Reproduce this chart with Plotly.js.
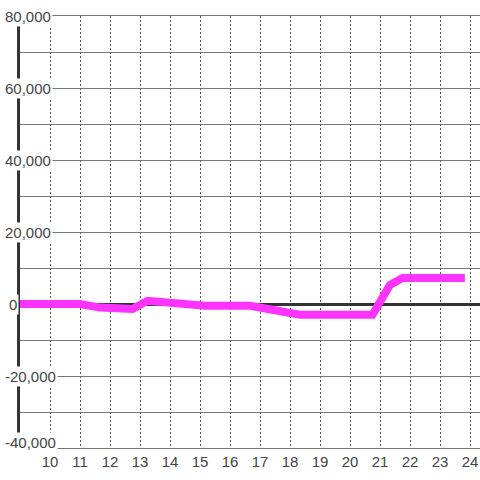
<!DOCTYPE html>
<html>
<head>
<meta charset="utf-8">
<script src="https://cdn.plot.ly/plotly-3.0.1.min.js"></script>
<style>html,body{margin:0;padding:0;background:#fff;}#chart{width:480px;height:480px;}</style>
</head>
<body>
<div id="chart"></div>
<script>
// Data (x = hour of day, y = value)
const hours = [9.0, 11.0, 11.67, 12.75, 13.25, 13.67, 14.17, 14.83, 15.17, 16.67, 17.0, 17.33, 18.33, 20.75, 21.33, 21.75, 23.83];
const values = [0, 0, -1000, -1400, 900, 700, 100, 0, -500, -500, -1000, -2000, -3000, -3000, 5300, 7200, 7200];

const xTickVals = [10, 11, 12, 13, 14, 15, 16, 17, 18, 19, 20, 21, 22, 23, 24];
const xTickText = ['10', '11', '12', '13', '14', '15', '16', '17', '18', '19', '20', '21', '22', '23', '24'];
const yTickVals = [-40000, -20000, 0, 20000, 40000, 60000, 80000];
const yTickText = ['-40,000', '-20,000', '0', '20,000', '40,000', '60,000', '80,000'];

const FONT = 'Liberation Sans, Arial, sans-serif';
const yMin = -40000, yMax = 80000;

const annotations = yTickVals.map((v, i) => ({
  xref: 'paper', yref: 'y', x: 0, y: v,
  xanchor: 'left', yanchor: 'middle',
  xshift: v === 0 ? -13 : -17, yshift: v === yMin ? 6 : 0,
  text: yTickText[i], showarrow: false,
  bgcolor: '#ffffff', borderpad: 1,
  font: {family: FONT, size: 15, color: '#444'}
}));

const trace = {
  x: hours, y: values, type: 'scatter', mode: 'lines',
  line: {color: '#ff33ff', width: 8},
  hoverinfo: 'skip'
};

const layout = {
  width: 480, height: 480,
  margin: {l: 20, r: 0, t: 16, b: 32, pad: 0},
  paper_bgcolor: '#ffffff', plot_bgcolor: '#ffffff',
  showlegend: false,
  font: {family: FONT, size: 15, color: '#444'},
  xaxis: {
    range: [9, 24.3333], tickvals: xTickVals, ticktext: xTickText,
    showgrid: true, gridcolor: '#555', gridwidth: 1, griddash: '2px,2px',
    zeroline: false, ticks: '',
    // top/bottom lines stand in for the edge gridlines (80,000 and -40,000)
    showline: true, mirror: true, linecolor: '#777', linewidth: 1, layer: 'below traces',
    tickfont: {family: FONT, size: 15, color: '#444'}, fixedrange: true
  },
  yaxis: {
    range: [yMin, yMax], tickvals: yTickVals, showticklabels: false,
    showgrid: true, gridcolor: '#777', gridwidth: 1,
    minor: {dtick: 10000, tick0: 0, showgrid: true, gridcolor: '#777', gridwidth: 1},
    zeroline: true, zerolinecolor: '#333', zerolinewidth: 3,
    showline: true, linecolor: '#333', linewidth: 3, layer: 'below traces',
    ticks: '', fixedrange: true
  },
  annotations: annotations
};

Plotly.newPlot('chart', [trace], layout, {staticPlot: true, displayModeBar: false});
</script>
</body>
</html>
